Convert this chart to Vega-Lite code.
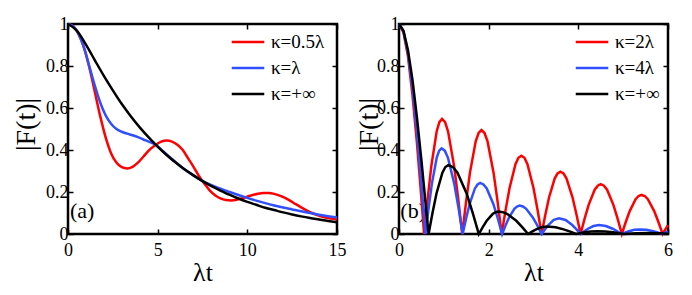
{
  "$schema": "https://vega.github.io/schema/vega-lite/v6.json",
  "background": "white",
  "padding": {"left": 11, "top": 13, "right": 0, "bottom": 0},
  "spacing": 6,
  "resolve": {"scale": {"color": "independent"}, "legend": {"color": "independent"}},
  "config": {
    "view": {"stroke": "#000", "strokeWidth": 2.5},
    "font": "Liberation Serif, Times New Roman, serif",
    "axis": {
      "labelFont": "Liberation Serif, Times New Roman, serif", "labelFontSize": 18, "labelColor": "#000",
      "titleFont": "Liberation Serif, Times New Roman, serif", "titleFontSize": 26, "titleFontWeight": "normal", "titleColor": "#000",
      "domain": false, "grid": false, "tickColor": "#000", "tickWidth": 1.5, "tickSize": -5,
      "labelPadding": 12, "labelFlush": false, "labelOverlap": false
    },
    "legend": {
      "orient": "none", "title": null, "symbolType": "M-1.3,0H1.3", "symbolSize": 625, "symbolStrokeWidth": 2.5,
      "labelFont": "Liberation Serif, Times New Roman, serif", "labelFontSize": 19, "labelColor": "#000", "rowPadding": 2, "labelOffset": 9, "padding": 0
    }
  },
  "datasets": {
    "a": [
      {"t":0,"F":1,"k":"κ=0.5λ"},{"t":0.3,"F":0.988,"k":"κ=0.5λ"},{"t":0.6,"F":0.95,"k":"κ=0.5λ"},{"t":0.9,"F":0.885,"k":"κ=0.5λ"},{"t":1.2,"F":0.79,"k":"κ=0.5λ"},{"t":1.5,"F":0.675,"k":"κ=0.5λ"},{"t":1.8,"F":0.56,"k":"κ=0.5λ"},{"t":2.1,"F":0.46,"k":"κ=0.5λ"},{"t":2.4,"F":0.385,"k":"κ=0.5λ"},{"t":2.7,"F":0.34,"k":"κ=0.5λ"},{"t":3,"F":0.318,"k":"κ=0.5λ"},{"t":3.3,"F":0.312,"k":"κ=0.5λ"},{"t":3.6,"F":0.32,"k":"κ=0.5λ"},{"t":3.9,"F":0.34,"k":"κ=0.5λ"},{"t":4.2,"F":0.368,"k":"κ=0.5λ"},{"t":4.5,"F":0.397,"k":"κ=0.5λ"},{"t":4.9,"F":0.425,"k":"κ=0.5λ"},{"t":5.2,"F":0.44,"k":"κ=0.5λ"},{"t":5.5,"F":0.445,"k":"κ=0.5λ"},{"t":5.8,"F":0.44,"k":"κ=0.5λ"},{"t":6.1,"F":0.425,"k":"κ=0.5λ"},{"t":6.4,"F":0.4,"k":"κ=0.5λ"},{"t":6.7,"F":0.36,"k":"κ=0.5λ"},{"t":7,"F":0.32,"k":"κ=0.5λ"},{"t":7.3,"F":0.276,"k":"κ=0.5λ"},{"t":7.6,"F":0.24,"k":"κ=0.5λ"},{"t":7.9,"F":0.208,"k":"κ=0.5λ"},{"t":8.2,"F":0.185,"k":"κ=0.5λ"},{"t":8.5,"F":0.17,"k":"κ=0.5λ"},{"t":8.8,"F":0.162,"k":"κ=0.5λ"},{"t":9.1,"F":0.16,"k":"κ=0.5λ"},{"t":9.4,"F":0.163,"k":"κ=0.5λ"},{"t":9.7,"F":0.17,"k":"κ=0.5λ"},{"t":10,"F":0.178,"k":"κ=0.5λ"},{"t":10.3,"F":0.186,"k":"κ=0.5λ"},{"t":10.6,"F":0.192,"k":"κ=0.5λ"},{"t":10.9,"F":0.195,"k":"κ=0.5λ"},{"t":11.2,"F":0.195,"k":"κ=0.5λ"},{"t":11.5,"F":0.191,"k":"κ=0.5λ"},{"t":11.8,"F":0.183,"k":"κ=0.5λ"},{"t":12.1,"F":0.172,"k":"κ=0.5λ"},{"t":12.4,"F":0.158,"k":"κ=0.5λ"},{"t":12.7,"F":0.142,"k":"κ=0.5λ"},{"t":13,"F":0.127,"k":"κ=0.5λ"},{"t":13.3,"F":0.113,"k":"κ=0.5λ"},{"t":13.6,"F":0.1,"k":"κ=0.5λ"},{"t":13.9,"F":0.09,"k":"κ=0.5λ"},{"t":14.2,"F":0.082,"k":"κ=0.5λ"},{"t":14.5,"F":0.076,"k":"κ=0.5λ"},{"t":14.8,"F":0.072,"k":"κ=0.5λ"},{"t":15,"F":0.07,"k":"κ=0.5λ"},
      {"t":0,"F":1,"k":"κ=λ"},{"t":0.3,"F":0.988,"k":"κ=λ"},{"t":0.6,"F":0.95,"k":"κ=λ"},{"t":0.9,"F":0.885,"k":"κ=λ"},{"t":1.2,"F":0.795,"k":"κ=λ"},{"t":1.5,"F":0.705,"k":"κ=λ"},{"t":1.8,"F":0.625,"k":"κ=λ"},{"t":2.1,"F":0.565,"k":"κ=λ"},{"t":2.4,"F":0.525,"k":"κ=λ"},{"t":2.7,"F":0.5,"k":"κ=λ"},{"t":3,"F":0.487,"k":"κ=λ"},{"t":3.3,"F":0.478,"k":"κ=λ"},{"t":3.6,"F":0.47,"k":"κ=λ"},{"t":3.9,"F":0.461,"k":"κ=λ"},{"t":4.2,"F":0.45,"k":"κ=λ"},{"t":4.5,"F":0.44,"k":"κ=λ"},{"t":4.9,"F":0.424,"k":"κ=λ"},{"t":5.2,"F":0.402,"k":"κ=λ"},{"t":5.5,"F":0.379,"k":"κ=λ"},{"t":5.8,"F":0.357,"k":"κ=λ"},{"t":6.1,"F":0.335,"k":"κ=λ"},{"t":6.4,"F":0.313,"k":"κ=λ"},{"t":6.7,"F":0.295,"k":"κ=λ"},{"t":7,"F":0.278,"k":"κ=λ"},{"t":7.5,"F":0.253,"k":"κ=λ"},{"t":8,"F":0.233,"k":"κ=λ"},{"t":8.5,"F":0.216,"k":"κ=λ"},{"t":9,"F":0.2,"k":"κ=λ"},{"t":9.5,"F":0.186,"k":"κ=λ"},{"t":10,"F":0.172,"k":"κ=λ"},{"t":10.5,"F":0.159,"k":"κ=λ"},{"t":11,"F":0.147,"k":"κ=λ"},{"t":11.5,"F":0.136,"k":"κ=λ"},{"t":12,"F":0.126,"k":"κ=λ"},{"t":12.5,"F":0.117,"k":"κ=λ"},{"t":13,"F":0.108,"k":"κ=λ"},{"t":13.5,"F":0.1,"k":"κ=λ"},{"t":14,"F":0.092,"k":"κ=λ"},{"t":14.5,"F":0.085,"k":"κ=λ"},{"t":15,"F":0.079,"k":"κ=λ"},
      {"t":0,"F":1,"k":"κ=+∞"},{"t":0.5,"F":0.968,"k":"κ=+∞"},{"t":1,"F":0.902,"k":"κ=+∞"},{"t":1.5,"F":0.827,"k":"κ=+∞"},{"t":2,"F":0.753,"k":"κ=+∞"},{"t":2.5,"F":0.684,"k":"κ=+∞"},{"t":3,"F":0.619,"k":"κ=+∞"},{"t":3.5,"F":0.561,"k":"κ=+∞"},{"t":4,"F":0.508,"k":"κ=+∞"},{"t":4.5,"F":0.46,"k":"κ=+∞"},{"t":5,"F":0.416,"k":"κ=+∞"},{"t":5.5,"F":0.376,"k":"κ=+∞"},{"t":6,"F":0.34,"k":"κ=+∞"},{"t":6.5,"F":0.308,"k":"κ=+∞"},{"t":7,"F":0.279,"k":"κ=+∞"},{"t":7.5,"F":0.252,"k":"κ=+∞"},{"t":8,"F":0.228,"k":"κ=+∞"},{"t":8.5,"F":0.207,"k":"κ=+∞"},{"t":9,"F":0.187,"k":"κ=+∞"},{"t":9.5,"F":0.169,"k":"κ=+∞"},{"t":10,"F":0.153,"k":"κ=+∞"},{"t":10.5,"F":0.139,"k":"κ=+∞"},{"t":11,"F":0.125,"k":"κ=+∞"},{"t":11.5,"F":0.114,"k":"κ=+∞"},{"t":12,"F":0.103,"k":"κ=+∞"},{"t":12.5,"F":0.093,"k":"κ=+∞"},{"t":13,"F":0.084,"k":"κ=+∞"},{"t":13.5,"F":0.076,"k":"κ=+∞"},{"t":14,"F":0.069,"k":"κ=+∞"},{"t":14.5,"F":0.062,"k":"κ=+∞"},{"t":15,"F":0.056,"k":"κ=+∞"}
    ],
    "b": [
      {"t":0,"F":1,"k":"κ=2λ"},{"t":0.1,"F":0.96,"k":"κ=2λ"},{"t":0.2,"F":0.846,"k":"κ=2λ"},{"t":0.3,"F":0.663,"k":"κ=2λ"},{"t":0.4,"F":0.434,"k":"κ=2λ"},{"t":0.48,"F":0.223,"k":"κ=2λ"},{"t":0.56,"F":0,"k":"κ=2λ"},
      {"t":0.64,"F":0.169,"k":"κ=2λ"},{"t":0.72,"F":0.322,"k":"κ=2λ"},{"t":0.84,"F":0.488,"k":"κ=2λ"},{"t":0.9,"F":0.533,"k":"κ=2λ"},{"t":0.96,"F":0.548,"k":"κ=2λ"},{"t":1.028,"F":0.533,"k":"κ=2λ"},{"t":1.095,"F":0.488,"k":"κ=2λ"},{"t":1.23,"F":0.322,"k":"κ=2λ"},{"t":1.32,"F":0.169,"k":"κ=2λ"},{"t":1.41,"F":0,"k":"κ=2λ"},
      {"t":1.496,"F":0.153,"k":"κ=2λ"},{"t":1.582,"F":0.291,"k":"κ=2λ"},{"t":1.711,"F":0.441,"k":"κ=2λ"},{"t":1.776,"F":0.481,"k":"κ=2λ"},{"t":1.84,"F":0.495,"k":"κ=2λ"},{"t":1.908,"F":0.481,"k":"κ=2λ"},{"t":1.975,"F":0.441,"k":"κ=2λ"},{"t":2.11,"F":0.291,"k":"κ=2λ"},{"t":2.2,"F":0.153,"k":"κ=2λ"},{"t":2.29,"F":0,"k":"κ=2λ"},
      {"t":2.378,"F":0.115,"k":"κ=2λ"},{"t":2.466,"F":0.219,"k":"κ=2λ"},{"t":2.598,"F":0.332,"k":"κ=2λ"},{"t":2.664,"F":0.363,"k":"κ=2λ"},{"t":2.73,"F":0.373,"k":"κ=2λ"},{"t":2.798,"F":0.363,"k":"κ=2λ"},{"t":2.865,"F":0.332,"k":"κ=2λ"},{"t":3,"F":0.219,"k":"κ=2λ"},{"t":3.09,"F":0.115,"k":"κ=2λ"},{"t":3.18,"F":0,"k":"κ=2λ"},
      {"t":3.264,"F":0.092,"k":"κ=2λ"},{"t":3.348,"F":0.175,"k":"κ=2λ"},{"t":3.474,"F":0.265,"k":"κ=2λ"},{"t":3.537,"F":0.289,"k":"κ=2λ"},{"t":3.6,"F":0.297,"k":"κ=2λ"},{"t":3.668,"F":0.289,"k":"κ=2λ"},{"t":3.735,"F":0.265,"k":"κ=2λ"},{"t":3.87,"F":0.175,"k":"κ=2λ"},{"t":3.96,"F":0.092,"k":"κ=2λ"},{"t":4.05,"F":0,"k":"κ=2λ"},
      {"t":4.14,"F":0.073,"k":"κ=2λ"},{"t":4.23,"F":0.139,"k":"κ=2λ"},{"t":4.365,"F":0.211,"k":"κ=2λ"},{"t":4.433,"F":0.23,"k":"κ=2λ"},{"t":4.5,"F":0.237,"k":"κ=2λ"},{"t":4.571,"F":0.23,"k":"κ=2λ"},{"t":4.641,"F":0.211,"k":"κ=2λ"},{"t":4.782,"F":0.139,"k":"κ=2λ"},{"t":4.876,"F":0.073,"k":"κ=2λ"},{"t":4.97,"F":0,"k":"κ=2λ"},
      {"t":5.058,"F":0.057,"k":"κ=2λ"},{"t":5.146,"F":0.109,"k":"κ=2λ"},{"t":5.278,"F":0.166,"k":"κ=2λ"},{"t":5.344,"F":0.181,"k":"κ=2λ"},{"t":5.41,"F":0.186,"k":"κ=2λ"},{"t":5.481,"F":0.181,"k":"κ=2λ"},{"t":5.551,"F":0.166,"k":"κ=2λ"},{"t":5.692,"F":0.109,"k":"κ=2λ"},{"t":5.786,"F":0.057,"k":"κ=2λ"},{"t":5.88,"F":0,"k":"κ=2λ"},{"t":5.94,"F":0.022,"k":"κ=2λ"},{"t":6,"F":0.042,"k":"κ=2λ"},
      {"t":0,"F":1,"k":"κ=4λ"},{"t":0.1,"F":0.965,"k":"κ=4λ"},{"t":0.2,"F":0.862,"k":"κ=4λ"},{"t":0.3,"F":0.697,"k":"κ=4λ"},{"t":0.4,"F":0.485,"k":"κ=4λ"},{"t":0.5,"F":0.237,"k":"κ=4λ"},{"t":0.59,"F":0,"k":"κ=4λ"},
      {"t":0.662,"F":0.126,"k":"κ=4λ"},{"t":0.734,"F":0.24,"k":"κ=4λ"},{"t":0.842,"F":0.364,"k":"κ=4λ"},{"t":0.896,"F":0.397,"k":"κ=4λ"},{"t":0.95,"F":0.408,"k":"κ=4λ"},{"t":1.021,"F":0.397,"k":"κ=4λ"},{"t":1.091,"F":0.364,"k":"κ=4λ"},{"t":1.232,"F":0.24,"k":"κ=4λ"},{"t":1.326,"F":0.126,"k":"κ=4λ"},{"t":1.42,"F":0,"k":"κ=4λ"},
      {"t":1.498,"F":0.075,"k":"κ=4λ"},{"t":1.576,"F":0.143,"k":"κ=4λ"},{"t":1.693,"F":0.217,"k":"κ=4λ"},{"t":1.752,"F":0.236,"k":"κ=4λ"},{"t":1.81,"F":0.243,"k":"κ=4λ"},{"t":1.884,"F":0.236,"k":"κ=4λ"},{"t":1.957,"F":0.217,"k":"κ=4λ"},{"t":2.104,"F":0.143,"k":"κ=4λ"},{"t":2.202,"F":0.075,"k":"κ=4λ"},{"t":2.3,"F":0,"k":"κ=4λ"},
      {"t":2.378,"F":0.042,"k":"κ=4λ"},{"t":2.456,"F":0.079,"k":"κ=4λ"},{"t":2.573,"F":0.12,"k":"κ=4λ"},{"t":2.632,"F":0.131,"k":"κ=4λ"},{"t":2.69,"F":0.135,"k":"κ=4λ"},{"t":2.764,"F":0.131,"k":"κ=4λ"},{"t":2.837,"F":0.12,"k":"κ=4λ"},{"t":2.984,"F":0.079,"k":"κ=4λ"},{"t":3.082,"F":0.042,"k":"κ=4λ"},{"t":3.18,"F":0,"k":"κ=4λ"},
      {"t":3.258,"F":0.023,"k":"κ=4λ"},{"t":3.336,"F":0.044,"k":"κ=4λ"},{"t":3.453,"F":0.067,"k":"κ=4λ"},{"t":3.57,"F":0.075,"k":"κ=4λ"},{"t":3.714,"F":0.067,"k":"κ=4λ"},{"t":3.858,"F":0.044,"k":"κ=4λ"},{"t":3.954,"F":0.023,"k":"κ=4λ"},{"t":4.05,"F":0,"k":"κ=4λ"},
      {"t":4.132,"F":0.013,"k":"κ=4λ"},{"t":4.214,"F":0.025,"k":"κ=4λ"},{"t":4.337,"F":0.038,"k":"κ=4λ"},{"t":4.46,"F":0.043,"k":"κ=4λ"},{"t":4.613,"F":0.038,"k":"κ=4λ"},{"t":4.766,"F":0.025,"k":"κ=4λ"},{"t":4.868,"F":0.013,"k":"κ=4λ"},{"t":4.97,"F":0,"k":"κ=4λ"},
      {"t":5.05,"F":0.007,"k":"κ=4λ"},{"t":5.13,"F":0.013,"k":"κ=4λ"},{"t":5.25,"F":0.02,"k":"κ=4λ"},{"t":5.37,"F":0.022,"k":"κ=4λ"},{"t":5.52,"F":0.02,"k":"κ=4λ"},{"t":5.67,"F":0.013,"k":"κ=4λ"},{"t":5.77,"F":0.007,"k":"κ=4λ"},{"t":5.87,"F":0,"k":"κ=4λ"},{"t":6,"F":0.012,"k":"κ=4λ"},
      {"t":0,"F":1,"k":"κ=+∞"},{"t":0.1,"F":0.968,"k":"κ=+∞"},{"t":0.2,"F":0.875,"k":"κ=+∞"},{"t":0.3,"F":0.735,"k":"κ=+∞"},{"t":0.4,"F":0.555,"k":"κ=+∞"},{"t":0.5,"F":0.35,"k":"κ=+∞"},{"t":0.6,"F":0.13,"k":"κ=+∞"},{"t":0.66,"F":0,"k":"κ=+∞"},
      {"t":0.748,"F":0.101,"k":"κ=+∞"},{"t":0.836,"F":0.193,"k":"κ=+∞"},{"t":0.968,"F":0.292,"k":"κ=+∞"},{"t":1.034,"F":0.319,"k":"κ=+∞"},{"t":1.1,"F":0.328,"k":"κ=+∞"},{"t":1.202,"F":0.319,"k":"κ=+∞"},{"t":1.304,"F":0.292,"k":"κ=+∞"},{"t":1.508,"F":0.193,"k":"κ=+∞"},{"t":1.644,"F":0.101,"k":"κ=+∞"},{"t":1.78,"F":0,"k":"κ=+∞"},
      {"t":1.868,"F":0.033,"k":"κ=+∞"},{"t":1.956,"F":0.063,"k":"κ=+∞"},{"t":2.088,"F":0.095,"k":"κ=+∞"},{"t":2.154,"F":0.104,"k":"κ=+∞"},{"t":2.22,"F":0.107,"k":"κ=+∞"},{"t":2.319,"F":0.104,"k":"κ=+∞"},{"t":2.418,"F":0.095,"k":"κ=+∞"},{"t":2.616,"F":0.063,"k":"κ=+∞"},{"t":2.748,"F":0.033,"k":"κ=+∞"},{"t":2.88,"F":0,"k":"κ=+∞"},
      {"t":2.964,"F":0.011,"k":"κ=+∞"},{"t":3.048,"F":0.021,"k":"κ=+∞"},{"t":3.174,"F":0.032,"k":"κ=+∞"},{"t":3.3,"F":0.036,"k":"κ=+∞"},{"t":3.495,"F":0.032,"k":"κ=+∞"},{"t":3.69,"F":0.021,"k":"κ=+∞"},{"t":3.82,"F":0.011,"k":"κ=+∞"},{"t":3.95,"F":0,"k":"κ=+∞"},
      {"t":4.044,"F":0.004,"k":"κ=+∞"},{"t":4.138,"F":0.008,"k":"κ=+∞"},{"t":4.279,"F":0.012,"k":"κ=+∞"},{"t":4.42,"F":0.013,"k":"κ=+∞"},{"t":4.6,"F":0.012,"k":"κ=+∞"},{"t":4.78,"F":0.008,"k":"κ=+∞"},{"t":4.9,"F":0.004,"k":"κ=+∞"},{"t":5.02,"F":0,"k":"κ=+∞"},
      {"t":5.3,"F":0.004,"k":"κ=+∞"},{"t":5.55,"F":0.005,"k":"κ=+∞"},{"t":5.8,"F":0.003,"k":"κ=+∞"},{"t":6,"F":0.001,"k":"κ=+∞"}
    ]
  },
  "hconcat": [
    {
      "width": 269, "height": 210,
      "layer": [
        {
          "data": {"values": [{"lab": "(a)"}]},
          "mark": {"type": "text", "font": "Liberation Serif, Times New Roman, serif", "fontSize": 22, "align": "left", "baseline": "middle", "color": "#000"},
          "encoding": {
            "x": {"datum": 0.11, "type": "quantitative", "scale": {"domain": [0, 15], "nice": false},
                  "axis": {"orient": "top", "labels": false, "title": null, "values": [0, 5, 10, 15]}},
            "y": {"datum": 0.11, "type": "quantitative", "scale": {"domain": [0, 1], "nice": false},
                  "axis": {"orient": "right", "labels": false, "title": null, "values": [0, 0.2, 0.4, 0.6, 0.8, 1]}},
            "text": {"field": "lab"}
          }
        },
        {
          "data": {"name": "a"},
          "mark": {"type": "line", "strokeWidth": 2.5, "interpolate": "monotone"},
          "encoding": {
            "x": {"field": "t", "type": "quantitative", "scale": {"domain": [0, 15], "nice": false},
                  "axis": {"orient": "bottom", "title": "λt", "values": [0, 5, 10, 15], "titlePadding": 0}},
            "y": {"field": "F", "type": "quantitative", "scale": {"domain": [0, 1], "nice": false},
                  "axis": {"orient": "left", "title": "|F(t)|", "titleFontSize": 28, "titleY": 100, "values": [0, 0.2, 0.4, 0.6, 0.8, 1], "format": "~g", "labelPadding": 5, "titlePadding": 5}},
            "color": {"field": "k", "type": "nominal",
                      "scale": {"domain": ["κ=0.5λ", "κ=λ", "κ=+∞"], "range": ["#ff0000", "#3050ff", "#000000"]},
                      "legend": {"legendX": 166, "legendY": 4}}
          }
        }
      ],
      "resolve": {"axis": {"x": "independent", "y": "independent"}}
    },
    {
      "width": 269, "height": 210,
      "layer": [
        {
          "data": {"values": [{"lab": "(b)"}]},
          "mark": {"type": "text", "font": "Liberation Serif, Times New Roman, serif", "fontSize": 22, "align": "left", "baseline": "middle", "color": "#000"},
          "encoding": {
            "x": {"datum": 0.03, "type": "quantitative", "scale": {"domain": [0, 6], "nice": false},
                  "axis": {"orient": "top", "labels": false, "title": null, "values": [0, 2, 4, 6]}},
            "y": {"datum": 0.11, "type": "quantitative", "scale": {"domain": [0, 1], "nice": false},
                  "axis": {"orient": "right", "labels": false, "title": null, "values": [0, 0.2, 0.4, 0.6, 0.8, 1]}},
            "text": {"field": "lab"}
          }
        },
        {
          "data": {"name": "b"},
          "mark": {"type": "line", "strokeWidth": 2.5},
          "encoding": {
            "x": {"field": "t", "type": "quantitative", "scale": {"domain": [0, 6], "nice": false},
                  "axis": {"orient": "bottom", "title": "λt", "values": [0, 2, 4, 6], "titlePadding": 0}},
            "y": {"field": "F", "type": "quantitative", "scale": {"domain": [0, 1], "nice": false},
                  "axis": {"orient": "left", "title": "|F(t)|", "titleFontSize": 28, "titleY": 100, "values": [0, 0.2, 0.4, 0.6, 0.8, 1], "format": "~g", "labelPadding": 5, "titlePadding": -7}},
            "color": {"field": "k", "type": "nominal",
                      "scale": {"domain": ["κ=2λ", "κ=4λ", "κ=+∞"], "range": ["#ff0000", "#3050ff", "#000000"]},
                      "legend": {"legendX": 179, "legendY": 4}}
          }
        }
      ],
      "resolve": {"axis": {"x": "independent", "y": "independent"}}
    }
  ]
}
